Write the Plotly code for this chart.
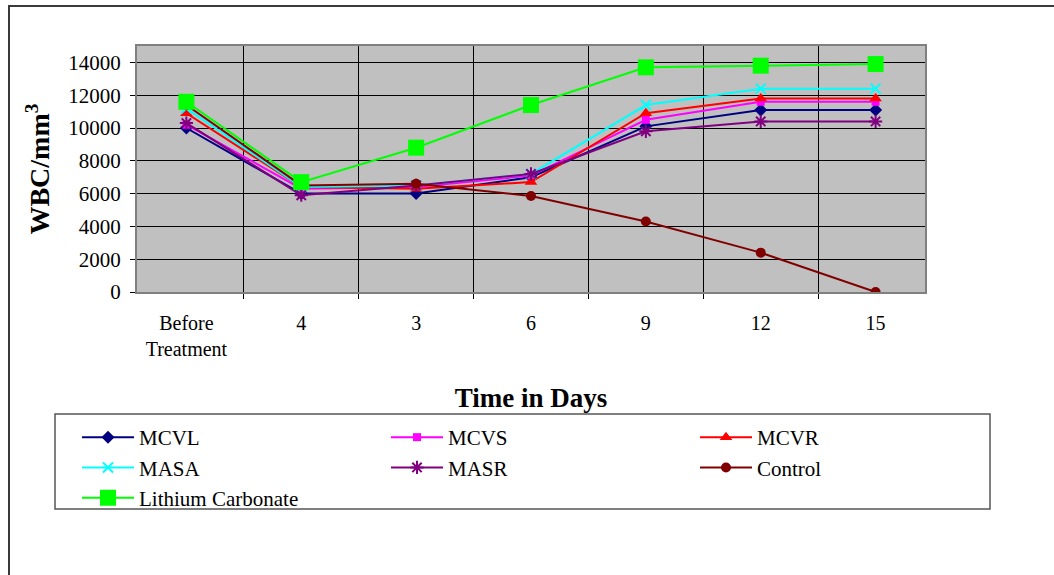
import plotly.graph_objects as go

# Sampling days (first point is the pre-treatment count)
days = ["Before<br>Treatment", "4", "3", "6", "9", "12", "15"]

# WBC counts per mm^3 for each group
mcvl = [10000, 6000, 6000, 7000, 10100, 11100, 11100]
mcvs = [10200, 6300, 6400, 7100, 10500, 11600, 11600]
mcvr = [10900, 6400, 6300, 6700, 10900, 11800, 11800]
masa = [11200, 6400, 6500, 7200, 11400, 12400, 12400]
masr = [10300, 5900, 6500, 7200, 9800, 10400, 10400]
control = [11400, 6500, 6600, 5850, 4300, 2400, 0]
lithium = [11600, 6700, 8800, 11400, 13700, 13800, 13900]

y_ticks = [0, 2000, 4000, 6000, 8000, 10000, 12000, 14000]

series = [
    ("MCVL", mcvl, "#000080", "diamond", 10, 0),
    ("MCVS", mcvs, "#FF00FF", "square", 8, 0),
    ("MCVR", mcvr, "#FF0000", "triangle-up", 11, 0),
    ("MASA", masa, "#00FFFF", "x-thin", 10, 2),
    ("MASR", masr, "#800080", "asterisk", 11, 2),
    ("Control", control, "#800000", "circle", 10, 0),
    ("Lithium Carbonate", lithium, "#00FF00", "square", 16, 0),
]

W, H = 1054, 575
ML, MR, MT, MB = 137, 129, 46, 283
PW, PH = W - ML - MR, H - MT - MB


def px_x(px):
    return (px - ML) / PW


def px_y(py):
    return (H - MB - py) / PH


FONT = "Liberation Serif"

fig = go.Figure()
for name, vals, color, symbol, size, lw in series:
    marker = dict(symbol=symbol, size=size, color=color)
    if lw:
        marker["line"] = dict(color=color, width=lw)
    else:
        marker["line"] = dict(width=0)
    fig.add_trace(go.Scatter(
        x=days, y=vals, name=name, mode="lines+markers",
        line=dict(color=color, width=2), marker=marker,
    ))

# Outer chart frame (left and top edges)
fig.add_shape(
    type="path", xref="paper", yref="paper",
    path=f"M {px_x(9)},{px_y(590)} L {px_x(9)},{px_y(6)} L {px_x(1070)},{px_y(6)}",
    line=dict(color="#3a3a3a", width=2),
)
# Legend frame
fig.add_shape(
    type="rect", xref="paper", yref="paper",
    x0=px_x(55), x1=px_x(990), y0=px_y(414), y1=px_y(509),
    line=dict(color="#555555", width=1.5), fillcolor="rgba(0,0,0,0)",
)

fig.update_layout(
    width=W, height=H,
    margin=dict(l=ML, r=MR, t=MT, b=MB),
    paper_bgcolor="white",
    plot_bgcolor="#C0C0C0",
    font=dict(family=FONT, color="black"),
    showlegend=True,
    legend=dict(
        orientation="h",
        x=px_x(77), xanchor="left",
        y=px_y(417), yanchor="top",
        font=dict(family=FONT, size=21, color="black"),
        borderwidth=0,
        bgcolor="rgba(0,0,0,0)",
        itemwidth=52,
        entrywidth=242, entrywidthmode="pixels",
        traceorder="normal",
    ),
    xaxis=dict(
        type="category",
        tickson="boundaries",
        showgrid=True, gridcolor="black", gridwidth=1,
        ticks="outside", ticklen=5, tickcolor="black",
        showline=True, linecolor="#808080", linewidth=2, mirror=True,
        tickfont=dict(family=FONT, size=20),
        ticklabelstandoff=12,
        title=dict(text="<b>Time in Days</b>", font=dict(family=FONT, size=27), standoff=29),
    ),
    yaxis=dict(
        range=[0, 15000],
        tickvals=y_ticks,
        tickformat="d",
        showgrid=True, gridcolor="black", gridwidth=1,
        zeroline=False,
        ticks="outside", ticklen=5, tickcolor="black",
        showline=True, linecolor="#808080", linewidth=2, mirror=True,
        tickfont=dict(family=FONT, size=21),
        ticklabelstandoff=5,
        title=dict(text="<b>WBC/mm<sup>3</sup></b>", font=dict(family=FONT, size=28), standoff=10),
    ),
)

fig.write_html("out.html")
